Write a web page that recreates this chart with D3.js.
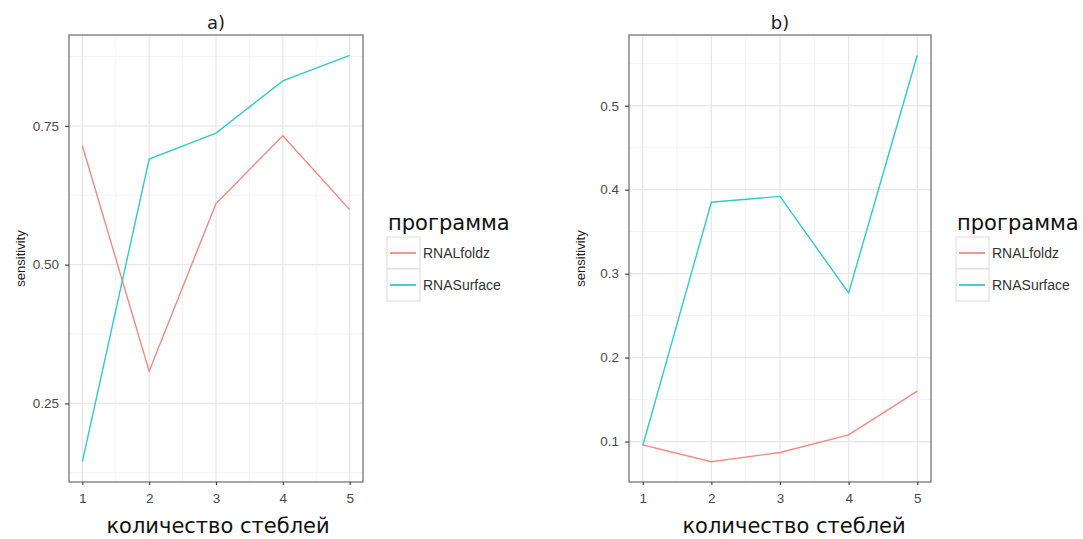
<!DOCTYPE html>
<html>
<head>
<meta charset="utf-8">
<script src="https://cdn.jsdelivr.net/npm/d3@7"></script>
<style>
  body { margin: 0; background: #fff; }
  text { font-family: "Liberation Sans", Arial, sans-serif; }
</style>
</head>
<body>
<script>
var width = 1083,
    height = 539;

var stems = [1, 2, 3, 4, 5];
var programs = ['RNALfoldz', 'RNASurface'];
var colors = ['#F8877F', '#2FCBCD'];

// panel a
var aFoldz   = [0.714, 0.308, 0.610, 0.732, 0.599];
var aSurface = [0.145, 0.690, 0.737, 0.831, 0.877];
var aTicks   = [0.25, 0.50, 0.75];
var aMinor   = [0.125, 0.375, 0.625, 0.875];

// panel b
var bFoldz   = [0.096, 0.076, 0.087, 0.108, 0.160];
var bSurface = [0.095, 0.385, 0.392, 0.277, 0.560];
var bTicks   = [0.1, 0.2, 0.3, 0.4, 0.5];
var bMinor   = [0.15, 0.25, 0.35, 0.45, 0.55];

var xMinor = [1.5, 2.5, 3.5, 4.5];

var svg = d3.select('body').append('svg')
    .attr('width', width)
    .attr('height', height);

drawPanel({
    left: 69, right: 363, top: 35, bottom: 482,
    title: 'a)', series: [aFoldz, aSurface],
    ticks: aTicks, minor: aMinor, fmt: d3.format('.2f'),
    legendX: 387, legendY: 237, xTitleShift: 2
});

drawPanel({
    left: 629, right: 931, top: 35, bottom: 482,
    title: 'b)', series: [bFoldz, bSurface],
    ticks: bTicks, minor: bMinor, fmt: d3.format('.1f'),
    legendX: 956, legendY: 237, xTitleShift: 14
});

function drawPanel(p) {
    var all = d3.merge(p.series);
    var lo = d3.min(all), hi = d3.max(all);
    var pad = (hi - lo) * 0.05;

    var x = d3.scaleLinear().domain([0.8, 5.2]).range([p.left, p.right]);
    var y = d3.scaleLinear().domain([lo - pad, hi + pad]).range([p.bottom, p.top]);

    var g = svg.append('g');

    // minor grid
    g.selectAll('.ym').data(p.minor).enter().append('line')
        .attr('x1', p.left).attr('x2', p.right)
        .attr('y1', function (d) { return y(d); }).attr('y2', function (d) { return y(d); })
        .attr('stroke', '#f3f3f3').attr('stroke-width', 1);
    g.selectAll('.xm').data(xMinor).enter().append('line')
        .attr('y1', p.top).attr('y2', p.bottom)
        .attr('x1', function (d) { return x(d); }).attr('x2', function (d) { return x(d); })
        .attr('stroke', '#f3f3f3').attr('stroke-width', 1);

    // major grid
    g.selectAll('.yg').data(p.ticks).enter().append('line')
        .attr('x1', p.left).attr('x2', p.right)
        .attr('y1', function (d) { return y(d); }).attr('y2', function (d) { return y(d); })
        .attr('stroke', '#e8e8e8').attr('stroke-width', 1.3);
    g.selectAll('.xg').data(stems).enter().append('line')
        .attr('y1', p.top).attr('y2', p.bottom)
        .attr('x1', function (d) { return x(d); }).attr('x2', function (d) { return x(d); })
        .attr('stroke', '#e8e8e8').attr('stroke-width', 1.3);

    // lines
    var line = d3.line()
        .x(function (d, i) { return x(stems[i]); })
        .y(function (d) { return y(d); });
    p.series.forEach(function (s, i) {
        g.append('path')
            .datum(s)
            .attr('d', line)
            .attr('fill', 'none')
            .attr('stroke', colors[i])
            .attr('stroke-width', 1.4);
    });

    // border
    g.append('rect')
        .attr('x', p.left).attr('y', p.top)
        .attr('width', p.right - p.left).attr('height', p.bottom - p.top)
        .attr('fill', 'none').attr('stroke', '#808080').attr('stroke-width', 1.4);

    // axes
    var xAxis = g.append('g')
        .attr('transform', 'translate(0,' + p.bottom + ')')
        .call(d3.axisBottom(x).tickValues(stems).tickFormat(d3.format('d')).tickSize(3).tickPadding(8));
    var yAxis = g.append('g')
        .attr('transform', 'translate(' + p.left + ',0)')
        .call(d3.axisLeft(y).tickValues(p.ticks).tickFormat(p.fmt).tickSize(4).tickPadding(6));
    [xAxis, yAxis].forEach(function (a) {
        a.select('.domain').remove();
        a.selectAll('line').attr('stroke', '#444').attr('stroke-width', 1.2);
        a.selectAll('text')
            .attr('fill', '#4a4a4a')
            .style('font-family', 'Liberation Sans, Arial, sans-serif')
            .style('font-size', '13.5px');
    });

    // title
    g.append('text')
        .attr('x', (p.left + p.right) / 2).attr('y', 29)
        .attr('text-anchor', 'middle')
        .style('font-family', 'DejaVu Sans, sans-serif')
        .style('font-size', '18px')
        .attr('fill', '#222')
        .text(p.title);

    // x title
    g.append('text')
        .attr('x', (p.left + p.right) / 2 + p.xTitleShift).attr('y', 533)
        .attr('text-anchor', 'middle')
        .style('font-family', 'DejaVu Sans, sans-serif')
        .style('font-size', '21px')
        .attr('fill', '#111')
        .text('количество стеблей');

    // y title
    g.append('text')
        .attr('transform', 'translate(' + (p.left - 44) + ',' + ((p.top + p.bottom) / 2) + ') rotate(-90)')
        .attr('text-anchor', 'middle')
        .style('font-size', '13px')
        .attr('fill', '#222')
        .text('sensitivity');

    // legend
    var lg = g.append('g').attr('transform', 'translate(' + p.legendX + ',' + p.legendY + ')');
    lg.append('text')
        .attr('x', 1).attr('y', -7)
        .style('font-family', 'DejaVu Sans, sans-serif')
        .style('font-size', '21px')
        .attr('fill', '#111')
        .text('программа');
    programs.forEach(function (name, i) {
        var ky = i * 32;
        lg.append('rect')
            .attr('x', 0).attr('y', ky)
            .attr('width', 33).attr('height', 32)
            .attr('fill', '#fff').attr('stroke', '#e0e0e0').attr('stroke-width', 1.2);
        lg.append('line')
            .attr('x1', 3).attr('x2', 29)
            .attr('y1', ky + 16).attr('y2', ky + 16)
            .attr('stroke', colors[i]).attr('stroke-width', 1.8);
        lg.append('text')
            .attr('x', 36).attr('y', ky + 21)
            .style('font-size', '14px')
            .attr('fill', '#333')
            .text(name);
    });
}
</script>
</body>
</html>
